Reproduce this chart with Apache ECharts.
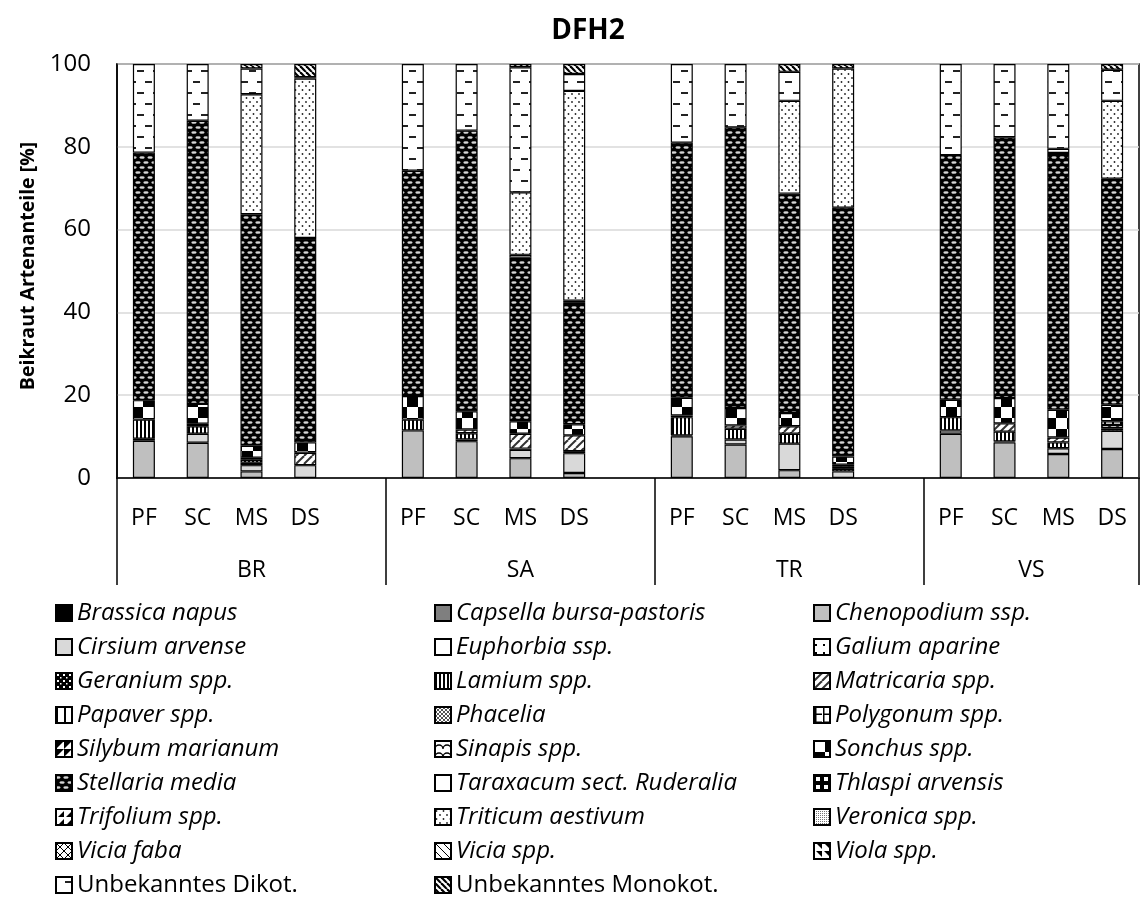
<!DOCTYPE html>
<html>
<head>
<meta charset="utf-8">
<script src="https://cdn.jsdelivr.net/npm/echarts@6/dist/echarts.min.js"></script>
<style>
  html, body { margin: 0; padding: 0; background: #fff; }
  #chart { width: 1142px; height: 899px; }
</style>
</head>
<body>
<div id="chart"></div>
<script>
// Sites and tillage treatments on the two-level category axis
const groups = ['BR', 'SA', 'TR', 'VS'];
const treatments = ['PF', 'SC', 'MS', 'DS'];

// Weed species (stacking order, bottom to top)
const speciesNames = [
  'Brassica napus', 'Capsella bursa-pastoris', 'Chenopodium ssp.',
  'Cirsium arvense', 'Euphorbia ssp.', 'Galium aparine',
  'Geranium spp.', 'Lamium spp.', 'Matricaria spp.',
  'Papaver spp.', 'Phacelia', 'Polygonum spp.',
  'Silybum marianum', 'Sinapis spp.', 'Sonchus spp.',
  'Stellaria media', 'Taraxacum sect. Ruderalia', 'Thlaspi arvensis',
  'Trifolium spp.', 'Triticum aestivum', 'Veronica spp.',
  'Vicia faba', 'Vicia spp.', 'Viola spp.',
  'Unbekanntes Dikot.', 'Unbekanntes Monokot.'
];

// Shares in %, per bar: BR PF,SC,MS,DS | SA PF,SC,MS,DS | TR PF,SC,MS,DS | VS PF,SC,MS,DS
const brassicaNapus   = [0, 0, 0, 0,    0, 0, 0, 0,    0, 0, 0, 0,    0, 0, 0, 0];
const capsella        = [0, 0, 0, 0,    0, 0, 0, 0,    0, 0, 0, 0,    0, 0, 0, 0];
const chenopodium     = [9.0, 8.5, 1.6, 0,    11.5, 8.9, 4.8, 1.2,    10.1, 8.1, 1.9, 0,    10.7, 8.6, 5.8, 7.0];
const cirsium         = [0.5, 2.2, 1.5, 3.1,  0, 0.4, 2.0, 4.8,       0.2, 1.2, 6.4, 1.6,   0.8, 0.2, 1.4, 4.4];
const euphorbia       = [0, 0, 0.6, 0,    0, 0, 0.3, 0.5,    0, 0, 0, 0,    0, 0, 0, 0];
const galium          = [0, 0, 0, 0,    0, 0, 0, 0,    0, 0, 0, 0,    0, 0, 0, 0];
const geranium        = [0, 0, 0, 0,    0, 0, 0, 0,    0, 0, 0, 0,    0, 0, 0, 0];
const lamium          = [4.6, 1.8, 0.7, 0,    2.6, 1.5, 0, 0,    4.4, 2.6, 2.4, 0.6,    3.2, 2.4, 1.4, 0.6];
const matricaria      = [0, 0.6, 0.5, 3.0,    0, 0.9, 3.6, 3.8,    0, 0.8, 1.8, 0.5,    0, 2.0, 1.2, 0.8];
const papaver         = [0, 0, 0, 0,    0, 0, 0, 0,    0.4, 0, 0, 0.5,    0, 0, 0, 0.9];
const phacelia        = [0, 0, 0, 0,    0, 0, 0, 0,    0, 0, 0, 0,    0, 0, 0, 0];
const polygonum       = [0, 0, 0, 0,    0, 0, 0, 0,    0, 0, 0, 0,    0, 0, 0, 0];
const silybum         = [0, 0, 0, 0,    0, 0, 0, 0,    0, 0, 0, 0,    0, 0, 0, 0];
const sinapis         = [0, 0, 0, 0,    0, 0, 0, 0,    0, 0, 0, 0,    0, 0, 0, 0];
const sonchus         = [4.7, 4.8, 2.9, 2.5,    5.7, 4.4, 3.0, 2.7,    4.3, 4.2, 3.2, 2.0,    4.2, 6.1, 6.7, 4.0];
const stellaria       = [59.8, 68.4, 55.9, 48.9,    54.4, 67.8, 39.5, 29.3,    61.6, 67.8, 53.0, 60.1,    59.1, 63.0, 62.0, 54.6];
const taraxacum       = [0, 0, 0, 0.5,    0, 0, 0.7, 0.5,    0, 0, 0, 0,    0, 0, 1.0, 0];
const thlaspi         = [0, 0, 0, 0,    0, 0, 0, 0,    0, 0, 0, 0,    0, 0, 0, 0];
const trifolium       = [0, 0, 0, 0,    0, 0, 0, 0,    0, 0, 0, 0,    0, 0, 0, 0];
const triticum        = [0, 0, 29.0, 38.5,    0, 0, 15.1, 50.7,    0, 0, 22.4, 33.6,    0, 0, 0, 18.8];
const veronica        = [0, 0, 0, 0,    0, 0, 0, 0,    0, 0, 0, 0,    0, 0, 0, 0];
const viciaFaba       = [0, 0, 0, 0,    0, 0, 0, 0,    0, 0, 0, 0,    0, 0, 0, 0];
const viciaSpp        = [0, 0, 0, 0,    0, 0, 0, 0,    0, 0, 0, 0,    0, 0, 0, 0];
const viola           = [0, 0, 0, 0,    0, 0, 0, 0,    0, 0, 0, 0,    0, 0, 0, 0];
const dikot           = [21.4, 13.7, 6.2, 0.3,    25.8, 16.1, 30.2, 4.1,    19.0, 15.3, 7.0, 0,    22.0, 17.7, 20.5, 7.5];
const monokot         = [0, 0, 1.1, 3.2,    0, 0, 0.8, 2.4,    0, 0, 1.9, 1.1,    0, 0, 0, 1.4];

const speciesValues = [
  brassicaNapus, capsella, chenopodium, cirsium, euphorbia, galium,
  geranium, lamium, matricaria, papaver, phacelia, polygonum,
  silybum, sinapis, sonchus, stellaria, taraxacum, thlaspi,
  trifolium, triticum, veronica, viciaFaba, viciaSpp, viola,
  dikot, monokot
];

// ---- hatch / pattern fills (small repeating canvas tiles) ----
function tile(w, h, bg, draw) {
  const c = document.createElement('canvas');
  c.width = w; c.height = h;
  const g = c.getContext('2d');
  g.fillStyle = bg; g.fillRect(0, 0, w, h);
  g.fillStyle = '#000'; g.strokeStyle = '#000';
  if (draw) draw(g, w, h);
  return { image: c, repeat: 'repeat' };
}
function ellipse(g, x, y, rx, ry) {
  g.beginPath(); g.ellipse(x, y, rx, ry, 0, 0, Math.PI * 2); g.fill();
}
const fills = [
  '#000000',                                   // Brassica
  '#7f7f7f',                                   // Capsella
  '#bfbfbf',                                   // Chenopodium
  '#d9d9d9',                                   // Cirsium
  '#ffffff',                                   // Euphorbia
  tile(8, 8, '#fff', g => { g.fillRect(1, 5, 2, 2); }),               // Galium
  tile(6, 6, '#000', g => { g.fillStyle = '#fff'; g.fillRect(1, 1, 2, 2); g.fillRect(4, 4, 1.5, 1.5); }), // Geranium
  tile(4, 4, '#fff', g => { g.fillRect(0, 0, 2, 4); }),               // Lamium
  tile(8, 8, '#fff', g => {                                            // Matricaria
    g.strokeStyle = '#333'; g.lineWidth = 2;
    for (const o of [-8, 0, 8]) { g.beginPath(); g.moveTo(o, 8); g.lineTo(o + 8, 0); g.stroke(); }
  }),
  tile(8, 8, '#fff', g => { g.fillRect(0, 0, 2, 8); }),               // Papaver
  tile(4, 4, '#fff', g => { g.fillStyle = '#555'; g.fillRect(0, 0, 2, 2); g.fillRect(2, 2, 2, 2); }), // Phacelia
  tile(8, 8, '#fff', g => { g.fillRect(1, 0, 1.5, 8); g.fillRect(1, 6.5, 7, 1.5); }), // Polygonum
  tile(8, 8, '#fff', g => { g.beginPath(); g.moveTo(0, 0); g.lineTo(8, 0); g.lineTo(0, 8); g.fill(); }), // Silybum
  tile(8, 8, '#fff', g => { g.lineWidth = 1.3; g.beginPath(); g.arc(4, 8, 4, Math.PI, 0); g.stroke(); }), // Sinapis
  tile(22, 22, '#fff', g => { g.fillRect(11, 0, 11, 11); g.fillRect(0, 11, 11, 11); }), // Sonchus
  tile(8, 10, '#000', g => {                                           // Stellaria
    g.fillStyle = '#d4d4d4';
    ellipse(g, 2, 2.5, 2.6, 1.3); ellipse(g, 10, 2.5, 2.6, 1.3);
    ellipse(g, 6, 7.5, 2.6, 1.3); ellipse(g, -2, 7.5, 2.6, 1.3);
  }),
  '#ffffff',                                   // Taraxacum
  tile(8, 8, '#000', g => { g.fillStyle = '#fff'; g.fillRect(2, 2, 4, 4); }), // Thlaspi
  tile(8, 8, '#fff', g => { g.beginPath(); g.moveTo(8, 8); g.lineTo(8, 2); g.lineTo(2, 8); g.fill(); }), // Trifolium
  tile(7, 8, '#fff', g => { g.fillStyle = '#222'; ellipse(g, 1.5, 2, 0.9, 0.9); ellipse(g, 5, 6, 0.9, 0.9); }), // Triticum
  tile(4, 4, '#fff', g => { g.fillStyle = '#777'; g.fillRect(0, 0, 1, 1); g.fillRect(2, 2, 1, 1); g.fillRect(2, 0, 1, 1); g.fillRect(0, 2, 1, 1); }), // Veronica
  tile(8, 8, '#fff', g => { g.lineWidth = 1; g.beginPath(); g.moveTo(0, 0); g.lineTo(8, 8); g.moveTo(8, 0); g.lineTo(0, 8); g.stroke(); }), // Vicia faba
  tile(8, 8, '#fff', g => { g.lineWidth = 1; g.beginPath(); g.moveTo(0, 0); g.lineTo(8, 8); g.stroke(); }), // Vicia spp.
  tile(8, 8, '#fff', g => { g.beginPath(); g.moveTo(2, 0); g.lineTo(8, 0); g.lineTo(8, 6); g.fill(); }), // Viola
  tile(16, 22, '#fff', g => { g.fillStyle = '#222'; g.fillRect(9, 4, 7, 2); g.fillRect(1, 15, 7, 2); }), // Unbekanntes Dikot.
  tile(6, 6, '#fff', g => {                                            // Unbekanntes Monokot.
    g.lineWidth = 2.2;
    for (const o of [-6, 0, 6]) { g.beginPath(); g.moveTo(o, 0); g.lineTo(o + 6, 6); g.stroke(); }
  })
];

// ---- category layout: each site followed by an empty spacer slot (except the last) ----
const categories = [];
const barSlot = [];           // slot index of each of the 16 bars
const groupStart = [];
const groupSize = [];
groups.forEach((grp, gi) => {
  groupStart.push(categories.length);
  treatments.forEach(t => { barSlot.push(categories.length); categories.push(t); });
  if (gi < groups.length - 1) categories.push('');
  groupSize.push(categories.length - groupStart[gi]);
});

function buildRow(vals) {
  const row = categories.map(() => '-');
  vals.forEach((v, i) => { row[barSlot[i]] = v > 0 ? v : '-'; });
  return row;
}

// second (site) axis uses half-slot boundaries so labels/dividers sit at slot edges or centres
const halfCount = categories.length * 2 + 1;
const siteAxisData = Array(halfCount).fill('');
const dividerIdx = new Set([halfCount - 1]);
groups.forEach((grp, gi) => {
  siteAxisData[2 * groupStart[gi] + groupSize[gi]] = grp;
  dividerIdx.add(2 * groupStart[gi]);
});

const FONT = '"Open Sans"';
const chart = echarts.init(document.getElementById('chart'), null, { renderer: 'canvas' });

const legendCols = [55, 434, 813];
chart.setOption({
  animation: false,
  backgroundColor: '#ffffff',
  title: {
    text: 'DFH2', left: 583, textAlign: 'center', top: 12,
    textStyle: { fontFamily: FONT, fontSize: 28, fontWeight: 'bold', color: '#000' }
  },
  grid: {
    left: 117, top: 64, width: 1027, height: 414,
    show: true, borderColor: '#000', borderWidth: 1.5, backgroundColor: 'transparent'
  },
  xAxis: [
    {
      type: 'category', data: categories, boundaryGap: true,
      axisLine: { show: false }, axisTick: { show: false }, splitLine: { show: false },
      axisLabel: { interval: 0, margin: 29, color: '#000', fontFamily: FONT, fontSize: 23 }
    },
    {
      type: 'category', data: siteAxisData, boundaryGap: false, position: 'bottom',
      axisLine: { show: true, lineStyle: { color: '#000', width: 1.5 } },
      axisTick: {
        show: true, length: 107, inside: false,
        interval: (idx) => dividerIdx.has(idx),
        lineStyle: { color: '#000', width: 1.5 }
      },
      splitLine: { show: false },
      axisLabel: { interval: 0, margin: 81, color: '#000', fontFamily: FONT, fontSize: 23 }
    }
  ],
  yAxis: {
    type: 'value', min: 0, max: 100, interval: 20,
    name: 'Beikraut Artenanteile [%]', nameLocation: 'middle', nameRotate: 90, nameGap: 79,
    nameTextStyle: { fontFamily: FONT, fontSize: 19.5, fontWeight: 'bold', color: '#000', padding: [0, 0, 0, 10] },
    axisLine: { show: true, lineStyle: { color: '#000', width: 1.5 } },
    axisTick: { show: false },
    axisLabel: { margin: 26, color: '#000', fontFamily: FONT, fontSize: 24 },
    splitLine: { show: true, lineStyle: { color: '#d9d9d9', width: 1.5 } }
  },
  legend: legendCols.map((x, col) => ({
    orient: 'vertical', left: x, top: 601, height: 298, padding: 0,
    itemWidth: 16, itemHeight: 16, itemGap: 10, icon: 'rect',
    selectedMode: false,
    data: speciesNames.filter((_, i) => i % 3 === col),
    formatter: n => (n.startsWith('Unbekanntes') ? '{n|' + n + '}' : '{i|' + n + '}'),
    textStyle: {
      color: '#000', fontFamily: FONT, fontSize: 24,
      rich: {
        i: { fontFamily: FONT, fontSize: 24, fontStyle: 'italic', lineHeight: 24, color: '#000' },
        n: { fontFamily: FONT, fontSize: 24, lineHeight: 24, color: '#000' }
      }
    }
  })),
  series: speciesNames.map((name, si) => ({
    name, type: 'bar', stack: 'total', barWidth: 22,
    xAxisIndex: 0,
    itemStyle: { color: fills[si], borderColor: '#000', borderWidth: 1.2 },
    emphasis: { disabled: true },
    data: buildRow(speciesValues[si])
  }))
});
</script>
</body>
</html>
